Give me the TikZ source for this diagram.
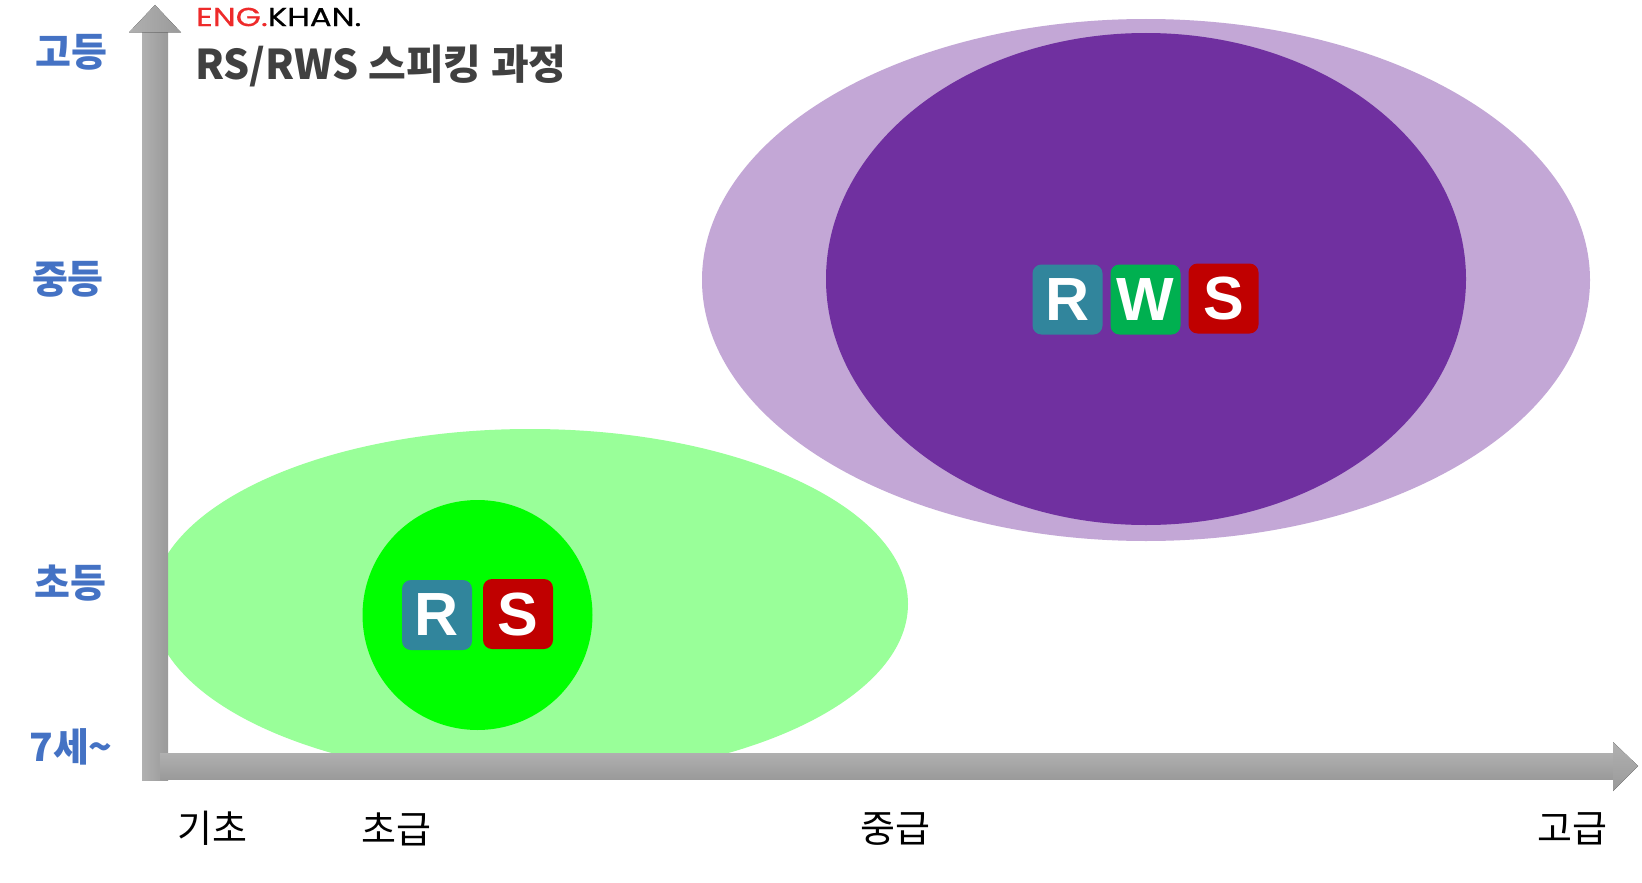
\documentclass[tikz,border=0pt]{standalone}
\usepackage{fontspec}
\usetikzlibrary{shapes.geometric}
\newfontfamily\kr{Noto Sans CJK KR}
\newfontfamily\arialf{Liberation Sans}
\newfontfamily\logof[FakeBold=0.5]{Poppins}
\definecolor{lpurple}{HTML}{C3A7D6}
\definecolor{dpurple}{HTML}{7030A0}
\definecolor{lgreen}{HTML}{99FF99}
\definecolor{bgreen}{HTML}{00FF00}
\definecolor{rteal}{HTML}{31859C}
\definecolor{wgreen}{HTML}{00B050}
\definecolor{sred}{HTML}{C00000}
\definecolor{ylabblue}{HTML}{4472C4}
\definecolor{titlegray}{HTML}{404040}
\definecolor{axlight}{HTML}{B0B0B0}
\definecolor{axdark}{HTML}{9A9A9A}
\definecolor{logored}{HTML}{EE2A2A}
\tikzset{
  blob/.style={ellipse, draw=none, inner sep=0pt},
  letterbox/.style={rectangle, rounded corners=9pt, minimum width=70pt, minimum height=70pt,
    inner sep=0pt, text=white, font=\arialf\bfseries\fontsize{61}{61}\selectfont},
  ylab/.style={inner sep=0pt, text=ylabblue, font=\kr\bfseries\fontsize{39}{39}\selectfont},
  xlab/.style={inner sep=0pt, text=black, font=\kr\fontsize{38}{38}\selectfont},
}
\begin{document}
\begin{tikzpicture}[x=1pt,y=-1pt]
\useasboundingbox (0,0) rectangle (1642,883);
\fill[white] (0,0) rectangle (1642,883);
% ellipses
\node[blob, fill=lpurple, minimum width=888pt, minimum height=522pt] (outerP) at (1146,280) {};
\node[blob, fill=dpurple, minimum width=640pt, minimum height=492pt] (innerP) at (1146,279) {};
\node[blob, fill=lgreen, minimum width=756pt, minimum height=350pt] (outerG) at (530,604) {};
\node[circle, fill=bgreen, inner sep=0pt, minimum size=230pt] (innerG) at (477.5,615) {};
% letter boxes
\node[letterbox, fill=rteal] (rsR) at (437,615) {R};
\node[letterbox, fill=sred] (rsS) at (518,614) {S};
\node[letterbox, fill=rteal] (rwsR) at (1067.5,299.5) {R};
\node[letterbox, fill=wgreen] (rwsW) at (1145.5,299.5) {W};
\node[letterbox, fill=sred] (rwsS) at (1223.5,298.5) {S};
% axes
\fill[left color=axlight, right color=axdark] (142,32) rectangle (168,780);
\fill[left color=axlight, right color=axdark] (129,32.5) -- (155,5) -- (181,32.5) -- cycle;
\fill[top color=axlight, bottom color=axdark] (160,753) rectangle (1614,779);
\fill[top color=axlight, bottom color=axdark] (1613,742) -- (1638,766) -- (1613,791) -- cycle;
% y labels
\node[ylab] (hs) at (71.5,52.5) {고등};
\node[ylab] (ms) at (68,279) {중등};
\node[ylab] (es) at (70,583) {초등};
\node[ylab] (age) at (71,747) {7세\textasciitilde};
% x labels
\node[xlab] (basic) at (212.5,828.5) {기초};
\node[xlab] (beg) at (396,829) {초급};
\node[xlab] (mid) at (895,829) {중급};
\node[xlab] (adv) at (1572,828.5) {고급};
% title
\node[anchor=west, inner sep=0pt, font=\logof\fontsize{26}{26}\selectfont] (logo) at (196,17)
  {\scalebox{1.25}[1]{\textcolor{logored}{ENG.}KHAN.}};
\node[anchor=west, inner sep=0pt, text=titlegray, font=\kr\bfseries\fontsize{41}{41}\selectfont] (title) at (195,66)
  {RS/RWS 스피킹 과정};
\end{tikzpicture}
\end{document}
